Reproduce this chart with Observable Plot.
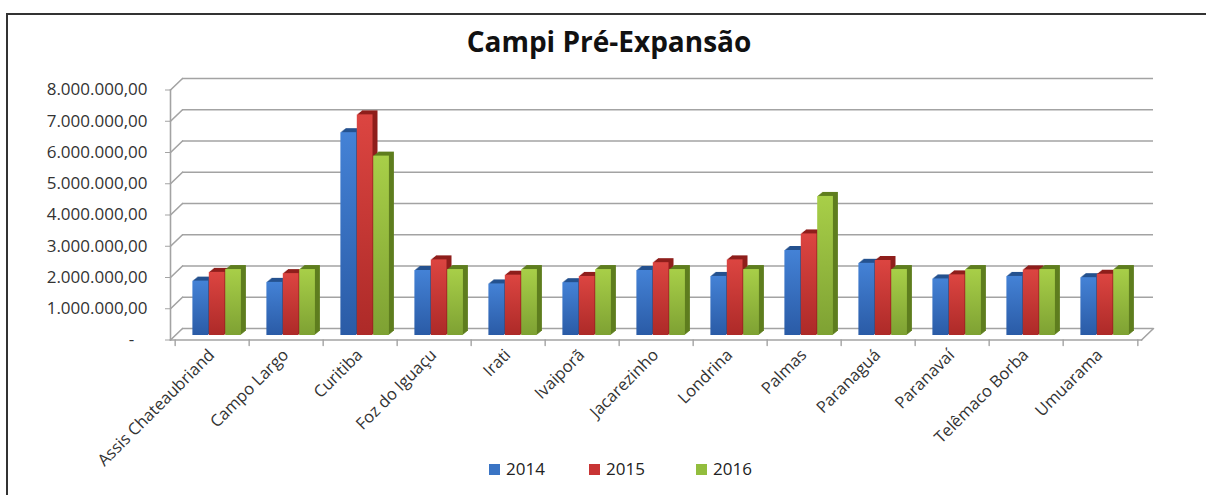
<!DOCTYPE html>
<html>
<head>
<meta charset="utf-8">
<script src="https://cdn.jsdelivr.net/npm/d3@7"></script>
<script src="https://cdn.jsdelivr.net/npm/@observablehq/plot@0.6"></script>
<style>
  html, body { margin: 0; padding: 0; background: #fff; }
  #page { position: relative; width: 1206px; height: 495px; overflow: hidden; font-family: "Open Sans", sans-serif; }
  #border { position: absolute; left: 6px; top: 13px; width: 1300px; height: 600px; border-left: 2px solid #333; border-top: 2px solid #333; }
  #title { position: absolute; left: 0; width: 1218px; top: 27px; text-align: center; font-size: 28px; line-height: 28px; font-weight: 700; color: #111; }
  #chart { position: absolute; left: 0; top: 70px; }
  .leg { position: absolute; top: 457px; font-size: 17px; line-height: 24px; color: #222; display: flex; align-items: center; }
  .leg span.sw { display: inline-block; width: 11px; height: 11px; margin-right: 6px; }
</style>
</head>
<body>
<div id="page">
  <div id="border"></div>
  <div id="title">Campi Pré-Expansão</div>
  <div id="chart"></div>
  <div id="legend"></div>
</div>
<script>
// ---- data ----
const campi = ["Assis Chateaubriand", "Campo Largo", "Curitiba", "Foz do Iguaçu", "Irati", "Ivaiporã",
  "Jacarezinho", "Londrina", "Palmas", "Paranaguá", "Paranavaí", "Telêmaco Borba", "Umuarama"];
const years = ["2014", "2015", "2016"];
const v2014 = [1740000, 1700000, 6490000, 2080000, 1650000, 1690000, 2080000, 1890000, 2720000, 2310000, 1810000, 1890000, 1850000];
const v2015 = [2020000, 1980000, 7060000, 2420000, 1930000, 1890000, 2330000, 2420000, 3250000, 2400000, 1940000, 2100000, 1960000];
const v2016 = [2110000, 2110000, 5740000, 2110000, 2110000, 2110000, 2110000, 2110000, 4450000, 2110000, 2110000, 2110000, 2110000];
const yTicks = [0, 1000000, 2000000, 3000000, 4000000, 5000000, 6000000, 7000000, 8000000];

const series = {"2014": v2014, "2015": v2015, "2016": v2016};
const table = years.flatMap(yr => campi.map((c, i) => ({campus: c, year: yr, value: series[yr][i]})));

// ---- styles ----
const frontTop = {"2014": "#4482d6", "2015": "#dc4541", "2016": "#a8cf48"};
const frontBot = {"2014": "#2a5ba6", "2015": "#ad2a28", "2016": "#7ea133"};
const darkFace = {"2014": "#25528f", "2015": "#8f1f1c", "2016": "#5f7e1f"};
const swatch = {"2014": "#3a74c4", "2015": "#c83434", "2016": "#92bd3d"};
const gridColor = "#a3a3a3";

const W = 1206, H = 380, mL = 170, mR = 65, mT = 19.5, mB = 110.5;
const bw = (W - mL - mR) / campi.length;
const barW = 16.4, groupOff = 12.7;
const depthX = 12, depthY = -11.5;          // back wall offset
const planeX = 4.7, planeY = -4.5;          // bars' plane offset

const loc = d3.formatLocale({decimal: ",", thousands: ".", grouping: [3], currency: ["", ""]});
const fmtNum = loc.format(",.2f");
const tickFormat = d => d === 0 ? "-\u00a0\u00a0\u00a0" : fmtNum(d);

const lineShape = {draw(context, l) { context.moveTo(0, 0); context.lineTo(0, -l); }};
const diagLen = Math.hypot(depthX, depthY);
const diagRot = Math.atan2(depthX, -depthY) * 180 / Math.PI;

const marks = [
  // back wall gridlines
  Plot.ruleY(yTicks, {y: d => d, dx: depthX, dy: depthY, stroke: gridColor, strokeWidth: 1.6}),
  // left wall diagonals
  Plot.vector(yTicks, {y: d => d, frameAnchor: "left", length: diagLen, rotate: diagRot, anchor: "start",
    shape: lineShape, stroke: gridColor, strokeWidth: 1.6}),
  // floor right diagonal
  Plot.vector([0], {frameAnchor: "bottom-right", length: diagLen, rotate: diagRot, anchor: "start",
    shape: lineShape, stroke: gridColor, strokeWidth: 1.6}),
  // front edges
  Plot.frame({anchor: "left", stroke: gridColor, strokeWidth: 1.6}),
  Plot.frame({anchor: "bottom", stroke: gridColor, strokeWidth: 1.6}),
  // category boundary ticks
  Plot.vector(campi, {x: d => d, frameAnchor: "bottom", dx: -bw / 2, length: 5.5, rotate: 180, anchor: "start",
    shape: lineShape, stroke: gridColor, strokeWidth: 1.4}),
  Plot.vector([campi[campi.length - 1]], {x: d => d, frameAnchor: "bottom", dx: bw / 2, length: 5.5, rotate: 180, anchor: "start",
    shape: lineShape, stroke: gridColor, strokeWidth: 1.4}),
  // y axis
  Plot.axisY(yTicks, {tickSize: 5, tickPadding: 18, tickFormat, label: null, stroke: gridColor, fill: "#333", fontSize: 17}),
  // x labels
  Plot.text(campi, {x: d => d, frameAnchor: "bottom", text: d => d, rotate: -45, textAnchor: "end",
    dx: 3, dy: 16, fontSize: 16.5, fill: "#333"})
];

years.forEach((yr, k) => {
  const data = table.filter(d => d.year === yr);
  const il = groupOff + k * barW;
  const ir = bw - il - barW;
  for (let j = 5; j >= 1; j--) {
    marks.push(Plot.barY(data, {x: "campus", y: "value", insetLeft: il, insetRight: ir,
      dx: planeX + j, dy: planeY - 0.8 * j, fill: darkFace[yr]}));
  }
  marks.push(Plot.barY(data, {x: "campus", y: "value", insetLeft: il, insetRight: ir,
    dx: planeX, dy: planeY, fill: `url(#g${yr})`}));
});

const chart = Plot.plot({
  width: W, height: H,
  marginLeft: mL, marginRight: mR, marginTop: mT, marginBottom: mB,
  x: {type: "band", domain: campi, padding: 0, axis: null},
  y: {domain: [0, 8000000], axis: null},
  style: {fontFamily: "Open Sans", fontSize: "15px", color: "#333", background: "transparent", overflow: "visible"},
  marks
});

const defs = d3.select(chart).insert("defs", ":first-child");
years.forEach(yr => {
  const g = defs.append("linearGradient").attr("id", `g${yr}`).attr("x1", 0).attr("y1", 0).attr("x2", 0).attr("y2", 1);
  g.append("stop").attr("offset", "0%").attr("stop-color", frontTop[yr]);
  g.append("stop").attr("offset", "100%").attr("stop-color", frontBot[yr]);
});
document.getElementById("chart").appendChild(chart);

// legend
const legX = [489, 589, 696];
const legend = document.getElementById("legend");
years.forEach((yr, k) => {
  const d = document.createElement("div");
  d.className = "leg";
  d.style.left = legX[k] + "px";
  d.innerHTML = `<span class="sw" style="background:${swatch[yr]}"></span>${yr}`;
  legend.appendChild(d);
});
</script>
</body>
</html>
